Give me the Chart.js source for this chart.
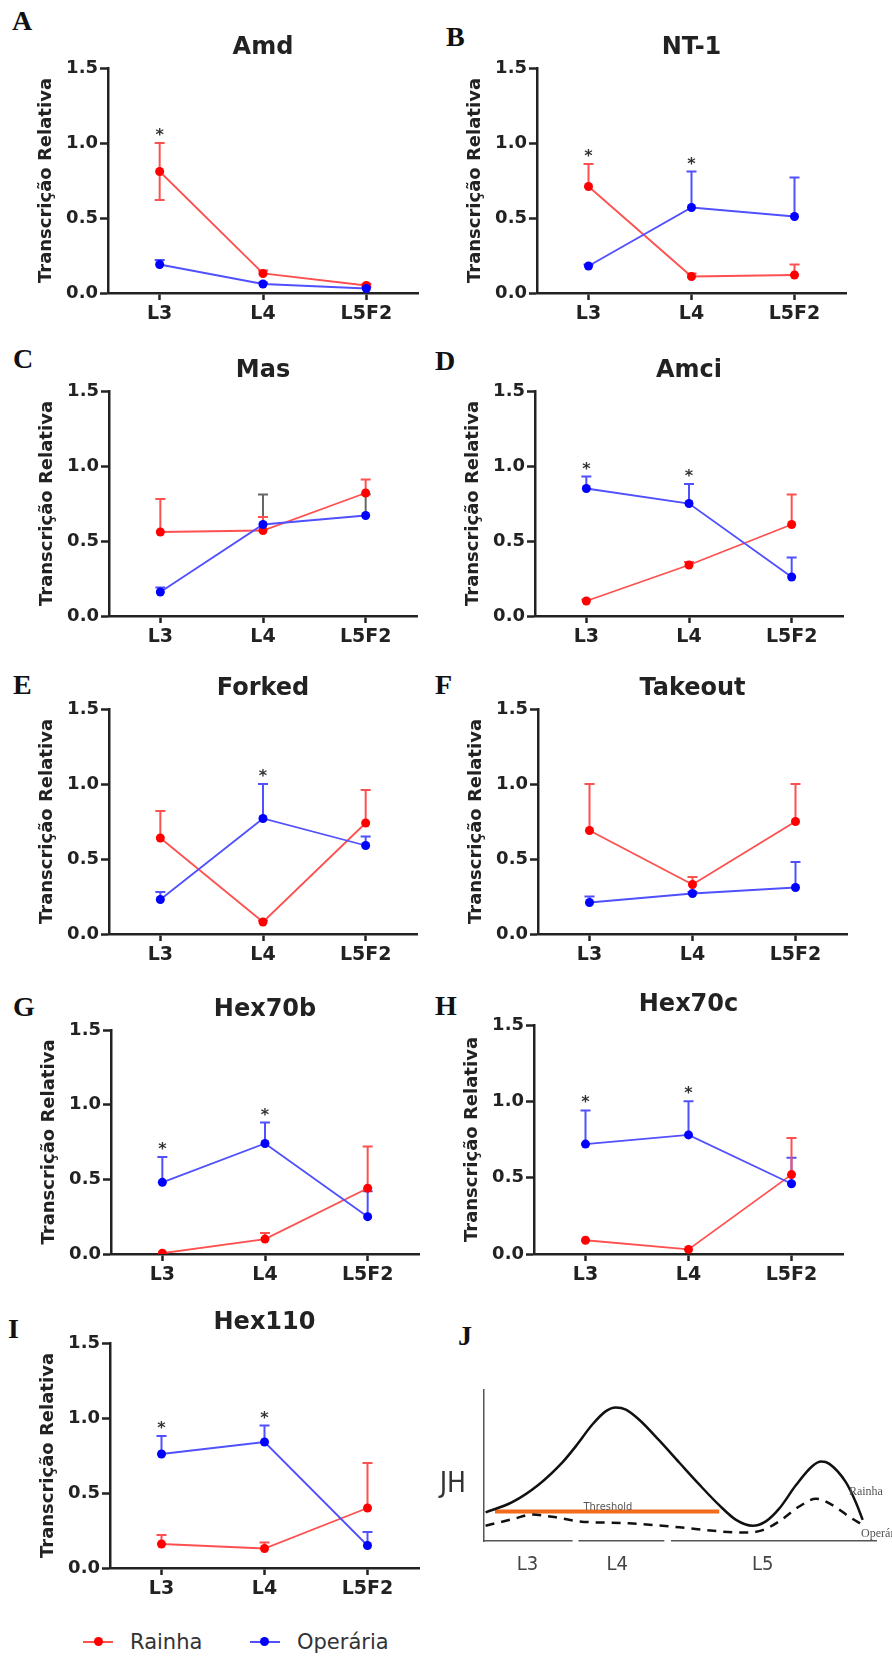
<!DOCTYPE html>
<html lang="pt">
<head>
<meta charset="UTF-8">
<title>Transcrição Relativa - Rainha x Operária</title>
<script src="https://cdn.jsdelivr.net/npm/chart.js"></script>
<style>
    body {
        margin: 0;
        background: #fff;
    }
    #page {
        position: relative;
        width: 892px;
        height: 1657px;
        overflow: hidden;
        background: #fff;
    }
    .letter {
        position: absolute;
        font-family: 'Liberation Serif', 'Times New Roman', serif;
        font-weight: bold;
        font-size: 28px;
        line-height: 28px;
        color: #111;
    }
    .leg-line {
        position: absolute;
        height: 2px;
        width: 30px;
    }
    .leg-dot {
        position: absolute;
        width: 9px;
        height: 9px;
        border-radius: 50%;
    }
    .leg-text {
        position: absolute;
        font-family: 'DejaVu Sans', sans-serif;
        font-size: 21px;
        line-height: 24px;
        color: #333;
    }
</style>
</head>
<body>
<div id="page">
    <div class="letter" style="left:12px;top:7px">A</div>
    <div class="letter" style="left:446px;top:23px">B</div>
    <div class="letter" style="left:13px;top:345px">C</div>
    <div class="letter" style="left:435px;top:347px">D</div>
    <div class="letter" style="left:13px;top:671px">E</div>
    <div class="letter" style="left:435px;top:671px">F</div>
    <div class="letter" style="left:13px;top:993px">G</div>
    <div class="letter" style="left:435px;top:992px">H</div>
    <div class="letter" style="left:8px;top:1315px">I</div>
    <div class="letter" style="left:458px;top:1322px">J</div>

    <!-- legend for the nine line charts -->
    <div class="leg-line" style="left:83px;top:1641px;background:#ff5050"></div>
    <div class="leg-dot" style="left:94px;top:1637px;background:#f00"></div>
    <div class="leg-text" style="left:130px;top:1630px">Rainha</div>
    <div class="leg-line" style="left:250px;top:1641px;background:#5050ff"></div>
    <div class="leg-dot" style="left:260px;top:1637px;background:#00f"></div>
    <div class="leg-text" style="left:297px;top:1630px">Operária</div>
</div>

<script>
    // ---- data ----
    const categories = ["L3", "L4", "L5F2"];
    const yTicks = [0, 0.5, 1.0, 1.5];

    // A - Amd
    const amdRainha = [0.81, 0.13, 0.05];
    const amdRainhaErr = [0.19, 0.02, 0.01];
    const amdRainhaErrDown = [0.19, 0, 0];
    const amdOperaria = [0.19, 0.06, 0.03];
    const amdOperariaErr = [0.03, 0.01, 0.01];
    const amdStars = [1, 0, 0];

    // B - NT-1
    const nt1Rainha = [0.71, 0.11, 0.12];
    const nt1RainhaErr = [0.15, 0.02, 0.07];
    const nt1Operaria = [0.18, 0.57, 0.51];
    const nt1OperariaErr = [0.01, 0.24, 0.26];
    const nt1Stars = [1, 1, 0];

    // C - Mas
    const masRainha = [0.56, 0.57, 0.82];
    const masRainhaErr = [0.22, 0.09, 0.09];
    const masOperaria = [0.16, 0.61, 0.67];
    const masOperariaErr = [0.03, 0.20, 0.14];
    const masStars = [0, 0, 0];

    // D - Amci
    const amciRainha = [0.10, 0.34, 0.61];
    const amciRainhaErr = [0.01, 0.02, 0.20];
    const amciOperaria = [0.85, 0.75, 0.26];
    const amciOperariaErr = [0.08, 0.13, 0.13];
    const amciStars = [1, 1, 0];

    // E - Forked
    const forkedRainha = [0.64, 0.08, 0.74];
    const forkedRainhaErr = [0.18, 0.01, 0.22];
    const forkedOperaria = [0.23, 0.77, 0.59];
    const forkedOperariaErr = [0.05, 0.23, 0.06];
    const forkedStars = [0, 1, 0];

    // F - Takeout
    const takeoutRainha = [0.69, 0.33, 0.75];
    const takeoutRainhaErr = [0.31, 0.05, 0.25];
    const takeoutOperaria = [0.21, 0.27, 0.31];
    const takeoutOperariaErr = [0.04, 0.01, 0.17];
    const takeoutStars = [0, 0, 0];

    // G - Hex70b
    const hex70bRainha = [0.005, 0.10, 0.44];
    const hex70bRainhaErr = [0, 0.04, 0.28];
    const hex70bOperaria = [0.48, 0.74, 0.25];
    const hex70bOperariaErr = [0.17, 0.14, 0.17];
    const hex70bStars = [1, 1, 0];

    // H - Hex70c
    const hex70cRainha = [0.09, 0.03, 0.52];
    const hex70cRainhaErr = [0, 0, 0.24];
    const hex70cOperaria = [0.72, 0.78, 0.46];
    const hex70cOperariaErr = [0.22, 0.22, 0.17];
    const hex70cStars = [1, 1, 0];

    // I - Hex110
    const hex110Rainha = [0.16, 0.13, 0.40];
    const hex110RainhaErr = [0.06, 0.04, 0.30];
    const hex110Operaria = [0.76, 0.84, 0.15];
    const hex110OperariaErr = [0.12, 0.11, 0.09];
    const hex110Stars = [1, 1, 0];

    // J - JH titre scheme (x: 0-100 across larvae stages, y: 0-100 arbitrary)
    const jRainhaX = [0.4, 7.2, 14.0, 20.0, 23.4, 27.7, 31.1, 33.6, 36.2, 39.6, 44.7, 49.8, 54.9, 60.0, 64.3, 68.5, 71.9, 75.3, 79.6, 83.8, 86.0, 88.1, 92.3, 94.9, 96.6];
    const jRainhaY = [18.9, 25.7, 37.4, 52.0, 62.6, 77.2, 85.9, 88.3, 86.9, 80.2, 66.5, 51.9, 37.4, 23.7, 14.0, 10.1, 13.0, 21.4, 37.0, 49.6, 52.5, 51.0, 38.9, 25.3, 14.0];
    const jOperariaX = [0.4, 7.2, 12.3, 17.4, 24.3, 37.0, 49.8, 60.9, 66.8, 71.1, 75.3, 80.4, 84.7, 88.9, 93.2, 97.0];
    const jOperariaY = [10.1, 14.4, 17.5, 16.0, 13.0, 11.7, 9.1, 6.2, 5.6, 7.2, 13.0, 22.8, 28.0, 23.7, 16.0, 10.1];
    const jThresholdX = [2.8, 60.0];
    const jThresholdY = [19.5, 19.5];
    const jStageLabels = ["L3", "L4", "L5"];
    const jStagePos = [11.1, 34.0, 71.1];
    const jAxisLabel = "JH";
    const jAxisLabelPos = 37.4;
    const jNoteText = ["Threshold", "Rainha", "Operária"];
    const jNoteX = [31.6, 93.1, 96.2];
    const jNoteY = [22.1, 32.6, 4.7];

    // ---- panels ----
    const panels = [
        { gene: "Amd", rainha: amdRainha, rainhaErr: amdRainhaErr, rainhaErrDown: amdRainhaErrDown, operaria: amdOperaria, operariaErr: amdOperariaErr, stars: amdStars },
        { gene: "NT-1", rainha: nt1Rainha, rainhaErr: nt1RainhaErr, operaria: nt1Operaria, operariaErr: nt1OperariaErr, stars: nt1Stars },
        { gene: "Mas", rainha: masRainha, rainhaErr: masRainhaErr, operaria: masOperaria, operariaErr: masOperariaErr, stars: masStars },
        { gene: "Amci", rainha: amciRainha, rainhaErr: amciRainhaErr, operaria: amciOperaria, operariaErr: amciOperariaErr, stars: amciStars },
        { gene: "Forked", rainha: forkedRainha, rainhaErr: forkedRainhaErr, operaria: forkedOperaria, operariaErr: forkedOperariaErr, stars: forkedStars },
        { gene: "Takeout", rainha: takeoutRainha, rainhaErr: takeoutRainhaErr, operaria: takeoutOperaria, operariaErr: takeoutOperariaErr, stars: takeoutStars },
        { gene: "Hex70b", rainha: hex70bRainha, rainhaErr: hex70bRainhaErr, operaria: hex70bOperaria, operariaErr: hex70bOperariaErr, stars: hex70bStars },
        { gene: "Hex70c", rainha: hex70cRainha, rainhaErr: hex70cRainhaErr, operaria: hex70cOperaria, operariaErr: hex70cOperariaErr, stars: hex70cStars },
        { gene: "Hex110", rainha: hex110Rainha, rainhaErr: hex110RainhaErr, operaria: hex110Operaria, operariaErr: hex110OperariaErr, stars: hex110Stars }
    ];

    // plot area of each panel: [left, top (1.5), right, bottom (0.0)]
    const plotBoxes = [
        [108, 68, 418, 293], [537, 68, 846, 293],
        [109, 391, 417, 616], [535, 391, 843, 616],
        [109, 709, 417, 934], [538, 709, 847, 934],
        [111, 1030, 419, 1254], [534, 1025, 843, 1254],
        [110, 1343, 419, 1568]
    ];
    // the grey-looking worker error bars in Mas
    const errColorOverride = { 2: ["#5050ff", "#666", "#666"] };

    const RED_LINE = "#ff5050", RED_PT = "#f00";
    const BLUE_LINE = "#5050ff", BLUE_PT = "#00f";
    const INK = "#222";
    const Y_AXIS_W = 72, X_AXIS_H = 34, TITLE_H = 35, PAD_R = 8;

    Chart.defaults.animation = false;
    Chart.defaults.font.family = "'DejaVu Sans', sans-serif";

    const page = document.getElementById("page");

    function addCanvas(left, top, w, h) {
        const c = document.createElement("canvas");
        c.width = w;
        c.height = h;
        c.style.position = "absolute";
        c.style.left = left + "px";
        c.style.top = top + "px";
        c.style.width = w + "px";
        c.style.height = h + "px";
        page.appendChild(c);
        return c;
    }

    // vertical error bars (upwards, and downwards where given)
    const errorBarPlugin = {
        id: "errorBars",
        beforeDatasetsDraw(chart) {
            const ctx = chart.ctx;
            const yScale = chart.scales.y;
            chart.data.datasets.forEach((ds, i) => {
                if (!ds.errUp) return;
                const meta = chart.getDatasetMeta(i);
                meta.data.forEach((pt, j) => {
                    const v = ds.data[j];
                    ctx.save();
                    ctx.strokeStyle = ds.errColors ? ds.errColors[j] : ds.borderColor;
                    ctx.lineWidth = 2;
                    ctx.beginPath();
                    if (ds.errUp[j] > 0) {
                        const top = yScale.getPixelForValue(v + ds.errUp[j]);
                        ctx.moveTo(pt.x, pt.y);
                        ctx.lineTo(pt.x, top);
                        ctx.moveTo(pt.x - 5, top);
                        ctx.lineTo(pt.x + 5, top);
                    }
                    if (ds.errDown && ds.errDown[j] > 0) {
                        const bot = yScale.getPixelForValue(v - ds.errDown[j]);
                        ctx.moveTo(pt.x, pt.y);
                        ctx.lineTo(pt.x, bot);
                        ctx.moveTo(pt.x - 5, bot);
                        ctx.lineTo(pt.x + 5, bot);
                    }
                    ctx.stroke();
                    ctx.restore();
                });
            });
        }
    };

    // significance asterisks above the highest error bar
    const starPlugin = {
        id: "stars",
        afterDatasetsDraw(chart, args, opts) {
            if (!opts.marks) return;
            const ctx = chart.ctx;
            const yScale = chart.scales.y;
            const xScale = chart.scales.x;
            opts.marks.forEach((m, j) => {
                if (!m) return;
                let top = 0;
                chart.data.datasets.forEach(ds => {
                    top = Math.max(top, ds.data[j] + (ds.errUp ? ds.errUp[j] : 0));
                });
                const x = xScale.getPixelForValue(j);
                const y = yScale.getPixelForValue(top);
                ctx.save();
                ctx.fillStyle = "#333";
                ctx.font = "bold 16px 'DejaVu Sans', sans-serif";
                ctx.textAlign = "center";
                ctx.textBaseline = "alphabetic";
                ctx.fillText("*", x, y - 3);
                ctx.restore();
            });
        }
    };

    panels.forEach((p, k) => {
        const [x0, y0, x1, y1] = plotBoxes[k];
        const left = x0 - Y_AXIS_W;
        const top = y0 - TITLE_H;
        const w = x1 + PAD_R - left;
        const h = y1 + X_AXIS_H - top;
        const canvas = addCanvas(left, top, w, h);

        new Chart(canvas.getContext("2d"), {
            type: "line",
            data: {
                labels: categories,
                datasets: [
                    {
                        label: "Operária",
                        data: p.operaria,
                        errUp: p.operariaErr,
                        errColors: errColorOverride[k],
                        borderColor: BLUE_LINE,
                        borderWidth: 1.8,
                        pointRadius: 4.5,
                        pointBackgroundColor: BLUE_PT,
                        pointBorderColor: BLUE_PT,
                        pointBorderWidth: 0,
                        tension: 0
                    },
                    {
                        label: "Rainha",
                        data: p.rainha,
                        errUp: p.rainhaErr,
                        errDown: p.rainhaErrDown,
                        borderColor: RED_LINE,
                        borderWidth: 1.8,
                        pointRadius: 4.5,
                        pointBackgroundColor: RED_PT,
                        pointBorderColor: RED_PT,
                        pointBorderWidth: 0,
                        tension: 0
                    }
                ]
            },
            options: {
                responsive: false,
                events: [],
                layout: { padding: { left: 0, right: PAD_R, top: 0, bottom: 0 } },
                plugins: {
                    legend: { display: false },
                    tooltip: { enabled: false },
                    title: {
                        display: true,
                        text: p.gene,
                        fullSize: false,
                        color: INK,
                        font: { family: "'DejaVu Sans', sans-serif", weight: "bold", size: 24, lineHeight: 1.25 },
                        padding: { top: 0, bottom: 5 }
                    },
                    stars: { marks: p.stars }
                },
                scales: {
                    x: {
                        type: "category",
                        offset: true,
                        grid: {
                            display: true,
                            offset: false,
                            drawOnChartArea: false,
                            drawTicks: true,
                            tickLength: 7,
                            tickWidth: 2.5,
                            tickColor: INK
                        },
                        border: { display: true, color: INK, width: 2.5 },
                        ticks: {
                            color: INK,
                            padding: 3,
                            maxRotation: 0,
                            font: { family: "'DejaVu Sans', sans-serif", weight: "bold", size: 19 }
                        },
                        afterFit: s => { s.height = X_AXIS_H; }
                    },
                    y: {
                        min: 0,
                        max: 1.5,
                        afterBuildTicks: s => { s.ticks = yTicks.map(v => ({ value: v })); },
                        grid: {
                            display: true,
                            drawOnChartArea: false,
                            drawTicks: true,
                            tickLength: 8,
                            tickWidth: 2.5,
                            tickColor: INK
                        },
                        border: { display: true, color: INK, width: 2.5 },
                        ticks: {
                            color: INK,
                            padding: 2,
                            callback: v => Number(v).toFixed(1),
                            font: { family: "'DejaVu Sans', sans-serif", weight: "bold", size: 18 }
                        },
                        title: {
                            display: true,
                            text: "Transcrição Relativa",
                            color: INK,
                            padding: 0,
                            font: { family: "'DejaVu Sans', sans-serif", weight: "bold", size: 18 }
                        },
                        afterFit: s => { s.width = Y_AXIS_W; }
                    }
                }
            },
            plugins: [errorBarPlugin, starPlugin]
        });
    });

    // ---- panel J: schematic JH titre ----
    const jBox = [484, 1369, 876, 1541];
    const J_Y_AXIS_W = 60, J_X_AXIS_H = 40, J_PAD_T = 6, J_PAD_R = 16;

    const jNotesPlugin = {
        id: "jNotes",
        afterDraw(chart) {
            const ctx = chart.ctx;
            const xs = chart.scales.x, ys = chart.scales.y;
            // small breaks in the x axis between stages
            ctx.save();
            ctx.fillStyle = "#fff";
            [[22.6, 24.1], [46.0, 47.7]].forEach(([a, b]) => {
                const pa = xs.getPixelForValue(a), pb = xs.getPixelForValue(b);
                ctx.fillRect(pa, chart.chartArea.bottom - 3, pb - pa, 6);
            });
            ctx.restore();
            jNoteText.forEach((t, i) => {
                const x = xs.getPixelForValue(jNoteX[i]);
                const y = ys.getPixelForValue(jNoteY[i]);
                ctx.save();
                ctx.fillStyle = "#555";
                ctx.textBaseline = "middle";
                if (i === 0) {
                    ctx.font = "11px 'Liberation Sans Narrow', 'DejaVu Sans Condensed', sans-serif";
                    ctx.textAlign = "center";
                } else {
                    ctx.font = "12px 'Liberation Serif', serif";
                    ctx.textAlign = "left";
                }
                ctx.fillText(t, x, y);
                ctx.restore();
            });
        }
    };

    (function () {
        const [x0, y0, x1, y1] = jBox;
        const left = x0 - J_Y_AXIS_W;
        const top = y0 - J_PAD_T;
        const w = x1 + J_PAD_R - left;
        const h = y1 + J_X_AXIS_H - top;
        const canvas = addCanvas(left, top, w, h);
        const pts = (xs, ys) => xs.map((x, i) => ({ x: x, y: ys[i] }));

        new Chart(canvas.getContext("2d"), {
            type: "line",
            data: {
                datasets: [
                    {
                        label: "Rainha",
                        data: pts(jRainhaX, jRainhaY),
                        borderColor: "#111",
                        borderWidth: 2.5,
                        pointRadius: 0,
                        cubicInterpolationMode: "monotone"
                    },
                    {
                        label: "Operária",
                        data: pts(jOperariaX, jOperariaY),
                        borderColor: "#111",
                        borderWidth: 2.5,
                        borderDash: [9, 7],
                        pointRadius: 0,
                        cubicInterpolationMode: "monotone"
                    },
                    {
                        label: "Threshold",
                        data: pts(jThresholdX, jThresholdY),
                        borderColor: "#f26a1b",
                        borderWidth: 4,
                        pointRadius: 0
                    }
                ]
            },
            options: {
                responsive: false,
                events: [],
                layout: { padding: { left: 0, right: J_PAD_R, top: J_PAD_T, bottom: 0 } },
                plugins: { legend: { display: false }, tooltip: { enabled: false } },
                scales: {
                    x: {
                        type: "linear",
                        min: 0,
                        max: 100,
                        afterBuildTicks: s => { s.ticks = jStagePos.map(v => ({ value: v })); },
                        grid: { display: false },
                        border: { display: true, color: "#555", width: 1.5 },
                        ticks: {
                            autoSkip: false,
                            maxRotation: 0,
                            padding: 4,
                            color: "#444",
                            callback: (v, i) => jStageLabels[i],
                            font: { family: "'Liberation Sans Narrow', 'DejaVu Sans Condensed', sans-serif", size: 20 }
                        },
                        afterFit: s => { s.height = J_X_AXIS_H; }
                    },
                    y: {
                        min: 0,
                        max: 100,
                        afterBuildTicks: s => { s.ticks = [{ value: jAxisLabelPos }]; },
                        grid: { display: false },
                        border: { display: true, color: "#555", width: 1.5 },
                        ticks: {
                            padding: 10,
                            color: "#333",
                            callback: () => jAxisLabel,
                            font: { family: "'Liberation Sans Narrow', 'DejaVu Sans Condensed', sans-serif", size: 28 }
                        },
                        afterFit: s => { s.width = J_Y_AXIS_W; }
                    }
                }
            },
            plugins: [jNotesPlugin]
        });
    })();
</script>
</body>
</html>
